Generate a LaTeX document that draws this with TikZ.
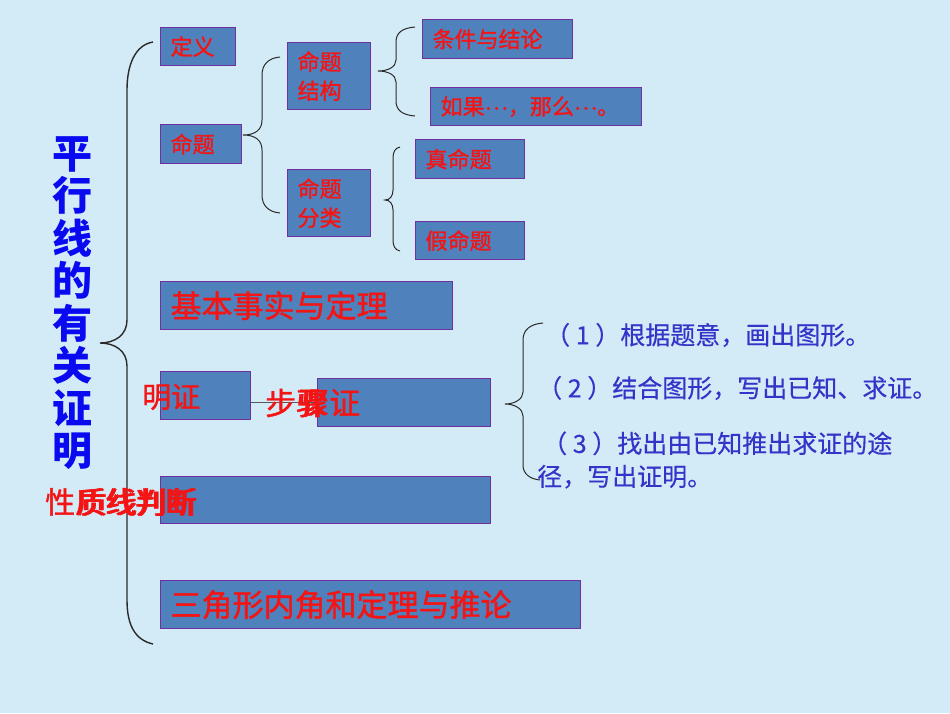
\documentclass[tikz,border=0pt]{standalone}
\usepackage{fontspec}
\setmainfont{Noto Sans CJK SC}
\newfontfamily\redfont[FakeBold=1.2]{Noto Sans CJK SC}
\newfontfamily\stepfont[FakeBold=0.4]{Noto Sans CJK SC}
\definecolor{bg_blue}{HTML}{D3EBF7}
\definecolor{box_fill}{HTML}{4F81BD}
\definecolor{box_line}{HTML}{7030A0}
\definecolor{text_red}{HTML}{F41414}
\definecolor{title_blue}{HTML}{0A0AF0}
\definecolor{step_blue}{HTML}{3434C8}
\definecolor{brace_gray}{HTML}{2A2A2A}
\begin{document}
\begin{tikzpicture}[x=1pt,y=-1pt]
	\tikzstyle{box_small} = [draw=box_line, line width=1.2pt, fill=box_fill, text=text_red, anchor=north west, inner xsep=10pt, inner ysep=0pt, align=left, font=\fontsize{22}{29}\redfont]
	\tikzstyle{box_large} = [box_small, font=\fontsize{31}{36}\redfont]
	\tikzstyle{label_red} = [text=text_red, anchor=west, inner sep=0pt]
	\tikzstyle{step_text} = [text=step_blue, anchor=west, inner sep=0pt, align=left, font=\fontsize{25}{33}\stepfont]
	\tikzstyle{brace_line} = [draw=brace_gray, line width=1pt]

	\fill[bg_blue] (0,0) rectangle (950,713);
	\useasboundingbox (0,0) rectangle (950,713);

%------------------------------------------------------------
	\node[text=title_blue, align=center, inner sep=0pt, font=\fontsize{40}{42.5}\selectfont\bfseries] (title) at (72,303) {平\\行\\线\\的\\有\\关\\证\\明};

	\draw[brace_line, line width=1.4pt] (153,42) .. controls (135,45) and (127,65) .. (127,90) -- (127,320) .. controls (127,335) and (115,343) .. (100,343) .. controls (115,343) and (127,351) .. (127,366) -- (127,600) .. controls (127,625) and (135,640) .. (153,644);

%------------------------------------------------------------
	\node[box_small, text width=55pt, minimum height=38pt] (ding_yi) at (160,27) {定义};
	\node[box_small, text width=61pt, minimum height=39pt] (ming_ti) at (160,124) {命题};

	\draw[brace_line] (280,57) .. controls (268,58) and (262,65) .. (262,75) -- (262,120) .. controls (262,130) and (255,135) .. (243,135) .. controls (255,135) and (262,140) .. (262,150) -- (262,195) .. controls (262,205) and (268,212) .. (280,213);

	\node[box_small, text width=63pt, minimum height=67pt] (jie_gou) at (287,42) {命题\\结构};
	\node[box_small, text width=63pt, minimum height=67pt] (fen_lei) at (287,169) {命题\\分类};

%------------------------------------------------------------
	\draw[brace_line] (415,27) .. controls (402,28) and (396,33) .. (396,42) -- (396,60) .. controls (396,67) and (388,71) .. (378,71) .. controls (388,71) and (396,75) .. (396,82) -- (396,101) .. controls (396,110) and (402,115) .. (415,116);

	\node[box_small, text width=130pt, minimum height=39pt] (tiao_jian) at (422,19) {条件与结论};
	\node[box_small, text width=191pt, minimum height=38pt] (ru_guo) at (430,87) {如果\raisebox{5pt}{…}，那么\raisebox{5pt}{…}。};

	\draw[brace_line] (400,147) .. controls (395,148) and (393,152) .. (393,158) -- (393,190) .. controls (393,196) and (390,200) .. (385,200) .. controls (390,200) and (393,204) .. (393,210) -- (393,240) .. controls (393,246) and (395,250) .. (400,251);

	\node[box_small, text width=89pt, minimum height=39pt] (zhen) at (415,139) {真命题};
	\node[box_small, text width=89pt, minimum height=38pt] (jia) at (415,221) {假命题};

%------------------------------------------------------------
	\node[box_large, text width=272pt, minimum height=48pt] (ji_ben) at (160,281) {基本事实与定理};

	\node[box_small, text width=70pt, minimum height=48pt] (zm_small) at (160,371) {};
	\node[box_small, text width=153pt, minimum height=48pt] (zm_large) at (317,378) {};
	\draw[brace_line, draw=gray!70!black] (zm_small.east |- zm_large.west) -- (zm_large.west);

	\node[box_small, text width=310pt, minimum height=47pt] (xing_zhi) at (160,476) {};
	\node[box_large, text width=400pt, minimum height=48pt] (san_jiao) at (160,580) {三角形内角和定理与推论};

	\node[label_red, font=\fontsize{29}{29}\redfont] (ming_zheng) at (142,397) {明证};
	\node[label_red, font=\fontsize{31}{31}\redfont] (bu_zhou) at (265,403) {步骤};
	\node[label_red, font=\fontsize{31}{31}\redfont] (zhou_zheng) at (298,403) {骤证};
	\node[label_red, font=\fontsize{30}{30}\redfont] (xing_pan) at (45,502) {性质线判断};
	\node[label_red, font=\fontsize{30}{30}\redfont] (zhi_pan) at (77,502) {质线判断};

%------------------------------------------------------------
	\draw[brace_line] (543,323) .. controls (530,324) and (523,330) .. (523,340) -- (523,392) .. controls (523,399) and (515,404) .. (505,404) .. controls (515,404) and (523,409) .. (523,416) -- (523,465) .. controls (523,474) and (530,479) .. (540,480);

	\node[step_text] (step_1) at (545,335) {（ 1 ）根据题意，画出图形。};
	\node[step_text] (step_2) at (537,388) {（ 2 ）结合图形，写出已知、求证。};
	\node[step_text] (step_3) at (537,460) {\hspace{5pt}（ 3 ）找出由已知推出求证的途\\径，写出证明。};

	\end{tikzpicture}
\end{document}
